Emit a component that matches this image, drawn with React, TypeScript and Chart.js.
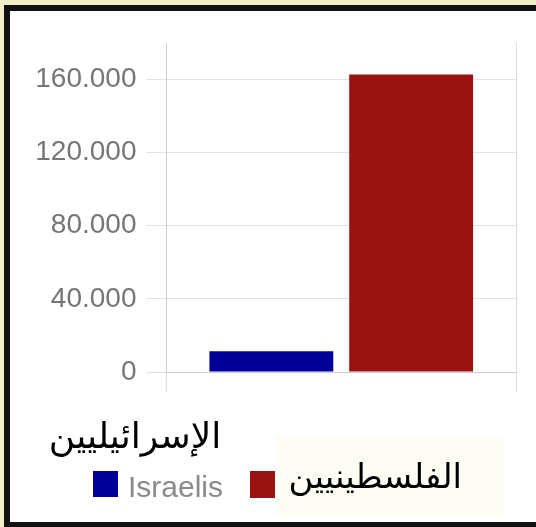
import React, { useEffect, useRef } from "react";
import { Chart, registerables } from "chart.js";

Chart.register(...registerables);

const categories = ["Casualties"];
const seriesLabels = ["Israelis", "Palestinians"];
const israelis = [11300];
const palestinians = [162700];
const yTicks = [0, 40000, 80000, 120000, 160000];
const seriesColors = ["#000099", "#9a1313"];
const arabicLabels = ["الإسرائيليين", "الفلسطينيين"];

const fmt = (v: number) => String(Math.round(v)).replace(/\B(?=(\d{3})+(?!\d))/g, ".");

export default function App() {
  const ref = useRef<HTMLCanvasElement | null>(null);

  useEffect(() => {
    if (!ref.current) return;
    const chart = new Chart(ref.current, {
      type: "bar",
      data: {
        labels: categories,
        datasets: [
          { label: seriesLabels[0], data: israelis, backgroundColor: seriesColors[0], categoryPercentage: 0.8, barPercentage: 0.886 },
          { label: seriesLabels[1], data: palestinians, backgroundColor: seriesColors[1], categoryPercentage: 0.8, barPercentage: 0.886 },
        ],
      },
      options: {
        responsive: false,
        animation: false,
        layout: { padding: { left: 0, right: 20, top: 43, bottom: 0 } },
        plugins: { legend: { display: false }, tooltip: { enabled: false } },
        scales: {
          x: {
            offset: true,
            grid: { display: true, offset: true, color: "#dcdcdc", drawTicks: true, tickLength: 20 },
            border: { display: true, color: "#cccccc" },
            ticks: { display: false },
            afterFit: (s: any) => { s.height = 155; },
          },
          y: {
            min: 0,
            max: 180000,
            afterBuildTicks: (s: any) => { s.ticks = yTicks.map((v) => ({ value: v })); },
            afterFit: (s: any) => { s.width = 166.5; },
            grid: { color: "#e2e2e2", drawTicks: true, tickLength: 20 },
            border: { display: true, color: "#cccccc" },
            ticks: {
              padding: 10,
              color: "#767676",
              font: { family: "'Liberation Sans', Arial, sans-serif", size: 28 },
              callback: (v: any) => fmt(Number(v)),
            },
          },
        },
      },
    });
    return () => chart.destroy();
  }, []);

  return (
    <div style={{ position: "fixed", left: 0, top: 0, width: 536, height: 527, overflow: "hidden", background: "#f0eec8" }}>
      <div style={{ position: "absolute", left: 4, top: 5, width: 540, height: 523, border: "6px solid #111", background: "#fff", boxSizing: "border-box" }} />
      <canvas ref={ref} width={536} height={527} style={{ position: "absolute", left: 0, top: 0, width: 536, height: 527 }} />
      {/* legend */}
      <div style={{ position: "absolute", left: 93, top: 471, width: 25, height: 26, background: seriesColors[0] }} />
      <div style={{ position: "absolute", left: 128, top: 472, lineHeight: "30px", fontSize: 30, fontFamily: "'Liberation Sans', Arial, sans-serif", color: "#8a8a8a", whiteSpace: "nowrap" }}>{seriesLabels[0]}</div>
      <div style={{ position: "absolute", left: 250, top: 471, width: 26, height: 27, background: seriesColors[1] }} />
      <div style={{ position: "absolute", left: 275, top: 435, width: 228, height: 80, background: "#fdfdf6" }} />
      <div dir="rtl" style={{ position: "absolute", left: 47, top: 411, width: 176, textAlign: "center", lineHeight: "50px", fontSize: 36, fontFamily: "'DejaVu Sans', sans-serif", color: "#000", whiteSpace: "nowrap" }}>{arabicLabels[0]}</div>
      <div dir="rtl" style={{ position: "absolute", left: 292, top: 451, width: 170, textAlign: "center", lineHeight: "50px", fontSize: 34, fontFamily: "'DejaVu Sans', sans-serif", color: "#000", whiteSpace: "nowrap" }}>{arabicLabels[1]}</div>
    </div>
  );
}
